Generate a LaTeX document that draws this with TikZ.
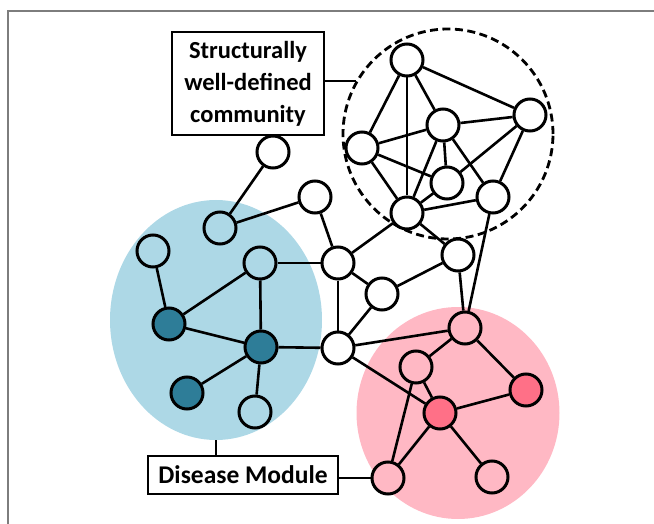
\documentclass[tikz,border=0pt]{standalone}
\usepackage{fontspec}
\setmainfont{Carlito}
\usetikzlibrary{shapes.geometric}
\definecolor{bluebg}{RGB}{173,216,230}
\definecolor{bluedk}{RGB}{46,125,152}
\definecolor{pinkbg}{RGB}{255,184,196}
\definecolor{pinkdk}{RGB}{255,112,135}
\definecolor{framegray}{RGB}{125,125,125}
\begin{document}
\begin{tikzpicture}[x=1pt,y=-1pt,
  nd/.style={circle,draw=black,line width=3pt,minimum size=32pt,inner sep=0pt,fill=white},
  ndb/.style={nd,fill=bluebg},
  ndB/.style={nd,fill=bluedk},
  ndp/.style={nd,fill=pinkbg},
  ndP/.style={nd,fill=pinkdk},
  edge/.style={line width=2.6pt},
  lbl/.style={draw=black,line width=1.2pt,fill=white,font=\bfseries\fontsize{24.5}{32}\selectfont,align=center,inner sep=2pt},
  blob/.style={ellipse,draw=none,inner sep=0pt}]
\useasboundingbox (0,0) rectangle (654,524);
\draw[framegray,line width=2pt] (8,524) -- (8,11) -- (654,11);
% background regions
\node[blob,fill=bluebg,minimum width=212pt,minimum height=240pt] (blue) at (216,320) {};
\node[blob,fill=pinkbg,minimum width=203pt,minimum height=212pt] (pink) at (458,413) {};
\node[circle,draw=black,dashed,dash pattern=on 8pt off 4.5pt,line width=2.8pt,minimum size=210pt,inner sep=0pt] (comm) at (448,134) {};
% nodes
\node[nd] (t1) at (273,152) {};
\node[nd] (t2) at (315,197) {};
\node[ndb] (b0) at (220,228) {};
\node[ndb] (bl1) at (153,251) {};
\node[ndb] (bl2) at (260,263) {};
\node[ndB] (db1) at (169,324) {};
\node[ndB] (db2) at (261,347) {};
\node[ndB] (db3) at (187,393) {};
\node[ndb] (bl3) at (255,412) {};
\node[nd] (a) at (338,263) {};
\node[nd] (bn) at (382,294) {};
\node[nd] (c) at (458,255) {};
\node[nd] (d) at (338,348) {};
\node[ndp] (p1) at (465,328) {};
\node[ndp] (p2) at (416,367) {};
\node[ndP] (p3) at (440,413) {};
\node[ndP] (p4) at (526,390) {};
\node[ndp] (p5) at (388,478) {};
\node[ndp] (p6) at (492,477) {};
\node[nd] (k1) at (407,60) {};
\node[nd] (k2) at (530,115) {};
\node[nd] (k3) at (362,148) {};
\node[nd] (k4) at (443,125) {};
\node[nd] (k5) at (447,183) {};
\node[nd] (k6) at (493,197) {};
\node[nd] (k7) at (407,213) {};
% edges
\foreach \u/\v in {t1/b0,b0/t2,t2/a,bl1/db1,bl2/db1,bl2/db2,bl2/a,db1/db2,db2/db3,db2/bl3,db2/d,
  a/bn,a/d,a/k7,bn/c,bn/d,c/k7,c/p1,k6/p1,d/p1,d/p3,p1/p2,p1/p4,p2/p3,p2/p5,p3/p4,p3/p5,p3/p6,
  k1/k3,k1/k7,k1/k4,k1/k2,k3/k4,k3/k5,k3/k7,k4/k2,k4/k5,k4/k7,k4/k6,k2/k5,k2/k6,k5/k7,k7/k6}
  \draw[edge] (\u) -- (\v);
% labels
\node[lbl,minimum width=152pt,minimum height=103pt] (lab1) at (248,83.5) {Structurally\\well-defined\\community};
\node[lbl,minimum width=190pt,minimum height=38pt,font=\bfseries\fontsize{25.5}{32}\selectfont] (lab2) at (243,475) {Disease Module};
\draw[edge] (lab1.east |- comm.150) -- (comm.150);
\draw[edge] (lab2.north -| blue.south) -- (blue.south);
\draw[edge] (lab2.east |- p5.west) -- (p5.west);
\end{tikzpicture}
\end{document}
